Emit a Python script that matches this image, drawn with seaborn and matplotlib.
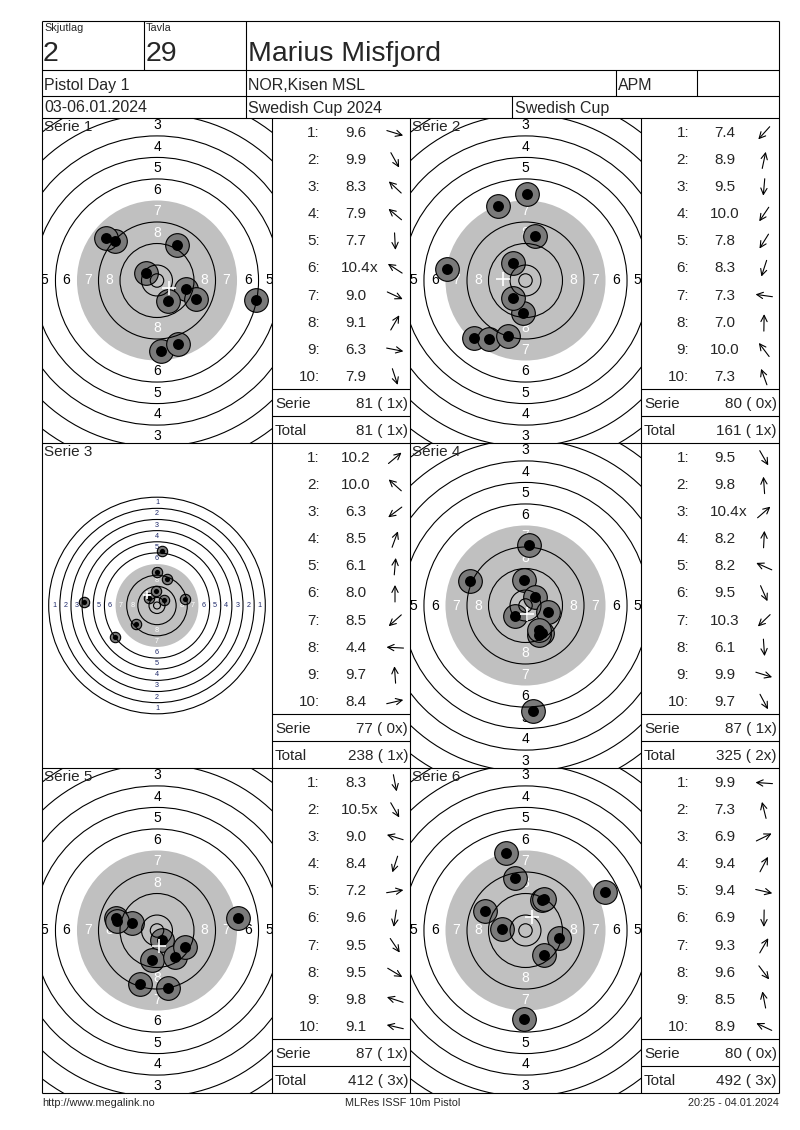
import numpy as np
import pandas as pd
import matplotlib
matplotlib.use("Agg")
import matplotlib.pyplot as plt
import seaborn as sns
from matplotlib.patches import Circle

# header fields
squad = "2"
lane = "29"
shooter = "Marius Misfjord"
match_name = "Pistol Day 1"
club = "NOR,Kisen MSL"
shooter_class = "APM"
dates = "03-06.01.2024"
competition = "Swedish Cup 2024"
cup = "Swedish Cup"
footer_left = "http://www.megalink.no"
footer_mid = "MLRes ISSF 10m Pistol"
footer_right = "20:25 - 04.01.2024"

# decimal score of every shot
scores_1 = [9.6, 9.9, 8.3, 7.9, 7.7, 10.4, 9.0, 9.1, 6.3, 7.9]
scores_2 = [7.4, 8.9, 9.5, 10.0, 7.8, 8.3, 7.3, 7.0, 10.0, 7.3]
scores_3 = [10.2, 10.0, 6.3, 8.5, 6.1, 8.0, 8.5, 4.4, 9.7, 8.4]
scores_4 = [9.5, 9.8, 10.4, 8.2, 8.2, 9.5, 10.3, 6.1, 9.9, 9.7]
scores_5 = [8.3, 10.5, 9.0, 8.4, 7.2, 9.6, 9.5, 9.5, 9.8, 9.1]
scores_6 = [9.9, 7.3, 6.9, 9.4, 9.4, 6.9, 9.3, 9.6, 8.5, 8.9]

# direction of every shot from the centre, degrees (0 = right, 90 = up)
angles_1 = [-17, -61, 137, 140, -87, 147, -25, 60, -11, -72]
angles_2 = [-132, 78, -95, -124, -122, -108, 172, 89, 127, 110]
angles_3 = [40, 138, -143, 70, 85, 90, -138, 177, 94, 13]
angles_4 = [-60, 94, 41, 87, 156, -66, -136, -86, -17, -62]
angles_5 = [-79, -60, 163, -108, 9, -99, -56, -31, 162, 167]
angles_6 = [176, 104, 26, 62, -13, -91, 60, -53, 101, 155]

series_scores = [scores_1, scores_2, scores_3, scores_4, scores_5, scores_6]
series_angles = [angles_1, angles_2, angles_3, angles_4, angles_5, angles_6]
zoomed = [True, True, False, True, True, True]

GRAY = "#c0c0c0"
SHOT = "#7a7a7a"
W, H = 800, 1130

sns.set_theme(style="white")
plt.rcParams["font.family"] = ["Liberation Sans", "DejaVu Sans"]

fig = plt.figure(figsize=(8, 11.3), dpi=100)
fig.patch.set_facecolor("white")

bg = fig.add_axes([0, 0, 1, 1])
bg.set_xlim(0, W)
bg.set_ylim(H, 0)
bg.axis("off")
bg.patch.set_visible(False)
bg.set_zorder(10)


def line(x0, y0, x1, y1):
    bg.plot([x0, x1], [y0, y1], color="black", lw=0.8, solid_capstyle="butt")


# header grid
L, R, TOP, BOT = 42, 779, 21, 1093
for y in [TOP, 70, 96, 118, 443, 768, BOT]:
    line(L, y, R, y)
line(L, TOP, L, BOT)
line(R, TOP, R, BOT)
for x in [144, 246]:
    line(x, TOP, x, 70)
for x in [246, 616, 697]:
    line(x, 70, x, 96)
for x in [246, 512]:
    line(x, 96, x, 118)
for x in [272, 410, 641]:
    line(x, 118, x, BOT)

bg.text(44, 28, "Skjutlag", fontsize=7.8, va="center")
bg.text(146, 28, "Tavla", fontsize=7.8, va="center")
bg.text(43, 54, squad, fontsize=20.5, va="center")
bg.text(146, 54, lane, fontsize=20.5, va="center")
bg.text(248, 54, shooter, fontsize=20.5, va="center")
bg.text(44, 85.5, match_name, fontsize=11.5, va="center")
bg.text(248, 85.5, club, fontsize=11.5, va="center")
bg.text(618, 85.5, shooter_class, fontsize=11.5, va="center")
bg.text(44, 108, dates, fontsize=11.5, va="center")
bg.text(248, 108, competition, fontsize=11.5, va="center")
bg.text(515, 108, cup, fontsize=11.5, va="center")

bg.text(42, 1103, footer_left, fontsize=7.8, va="center")
bg.text(403, 1103, footer_mid, fontsize=7.8, va="center", ha="center")
bg.text(779, 1103, footer_right, fontsize=7.8, va="center", ha="right")


def ring_radius(n):
    # outer radius (mm) of ring n on the 10m air pistol target
    return 5.75 + 8 * (10 - n)


def draw_target(box, scores, angles, zoom, title):
    x0, y0, x1, y1 = box
    ax = fig.add_axes([x0 / W, 1 - y1 / H, (x1 - x0) / W, (y1 - y0) / H])
    scale = 2.69 if zoom else 1.393
    hx = (x1 - x0) / 2 / scale
    hy = (y1 - y0) / 2 / scale
    ax.set_xlim(-hx, hx)
    ax.set_ylim(-hy, hy)
    ax.axis("off")

    ax.add_patch(Circle((0, 0), ring_radius(7), color=GRAY, lw=0, zorder=1))
    for n in range(1, 11):
        if n != 7:
            ax.add_patch(Circle((0, 0), ring_radius(n), fill=False,
                                ec="black", lw=0.8, zorder=5))
    ax.add_patch(Circle((0, 0), 2.5, fill=False, ec="black", lw=0.8, zorder=5))

    # ring numbers, only those that fall inside the panel
    fs = 10 if zoom else 5.2
    for n in range(1, 9):
        r = ring_radius(n) - 4
        col = "white" if n >= 7 else ("black" if zoom else "#1f2a6b")
        for px, py in [(0, r), (0, -r), (-r, 0), (r, 0)]:
            if abs(px) > hx - 1 or abs(py) > hy - 1:
                continue
            ax.text(px, py, str(n), ha="center", va="center", fontsize=fs,
                    color=col, zorder=2, clip_on=True)

    s = np.array(scores)
    a = np.radians(angles)
    d = np.clip((11 - s) * 8, 0, None)
    shots = pd.DataFrame({"x": d * np.cos(a), "y": d * np.sin(a)})
    so, si = (290, 62) if zoom else (56, 14)
    sns.scatterplot(data=shots, x="x", y="y", s=so, color=SHOT,
                    edgecolor="black", linewidth=0.8, ax=ax, zorder=3,
                    legend=False)
    sns.scatterplot(data=shots, x="x", y="y", s=si, color="black",
                    edgecolor="black", linewidth=0, ax=ax, zorder=4,
                    legend=False)
    ax.plot(shots["x"].mean(), shots["y"].mean(), marker="+", color="white",
            ms=10 if zoom else 6, mew=1.2, zorder=6)
    ax.set_xlabel("")
    ax.set_ylabel("")
    ax.text(0.01, 0.993, title, transform=ax.transAxes, ha="left", va="top",
            fontsize=11, zorder=7)


def draw_table(box, scores, angles, serie_sum, serie_x, total_sum, total_x):
    x0, y0, x1, y1 = box
    rh = (y1 - y0) / 12
    dy = 1.5
    for i, (sc, ang) in enumerate(zip(scores, angles)):
        cy = y0 + rh * (i + 0.5) + dy
        bg.text(x0 + 48, cy, f"{i + 1}:", ha="right", va="center", fontsize=11)
        bg.text(x0 + 84, cy, f"{sc:.1f}", ha="center", va="center", fontsize=11)
        if sc >= 10.4:
            bg.text(x0 + 98, cy, "x", ha="left", va="center", fontsize=11)
        h = 8.5
        ca, sa = np.cos(np.radians(ang)), np.sin(np.radians(ang))
        cx = x0 + 123
        bg.annotate("", xy=(cx + h * ca, cy - h * sa),
                    xytext=(cx - h * ca, cy + h * sa),
                    arrowprops=dict(arrowstyle="->,head_length=0.5,head_width=0.25",
                                    lw=0.8, color="black", mutation_scale=9,
                                    shrinkA=0, shrinkB=0))
    line(x0, y0 + rh * 10, x1, y0 + rh * 10)
    line(x0, y0 + rh * 11, x1, y0 + rh * 11)
    for k, (lab, val, nx) in enumerate([("Serie", serie_sum, serie_x),
                                        ("Total", total_sum, total_x)]):
        cy = y0 + rh * (10.5 + k) + dy
        bg.text(x0 + 3, cy, lab, ha="left", va="center", fontsize=11)
        bg.text(x1 - 2, cy, f"{val} ({nx:2d}x)", ha="right", va="center",
                fontsize=11)


rows = [(118, 443), (443, 768), (768, 1093)]
cols = [((42, 272), (272, 410)), ((410, 641), (641, 779))]
total, total_x = 0, 0
for k in range(6):
    r, c = divmod(k, 2)
    (tx0, tx1), (sx0, sx1) = cols[c]
    y0, y1 = rows[r]
    sc = series_scores[k]
    serie_sum = int(sum(int(v) for v in sc))
    serie_x = sum(1 for v in sc if v >= 10.4)
    total += serie_sum
    total_x += serie_x
    draw_target((tx0, y0, tx1, y1), sc, series_angles[k], zoomed[k], f"Serie {k + 1}")
    draw_table((sx0, y0, sx1, y1), sc, series_angles[k], serie_sum, serie_x,
               total, total_x)

fig.savefig("out.png", dpi=100, facecolor="white")
